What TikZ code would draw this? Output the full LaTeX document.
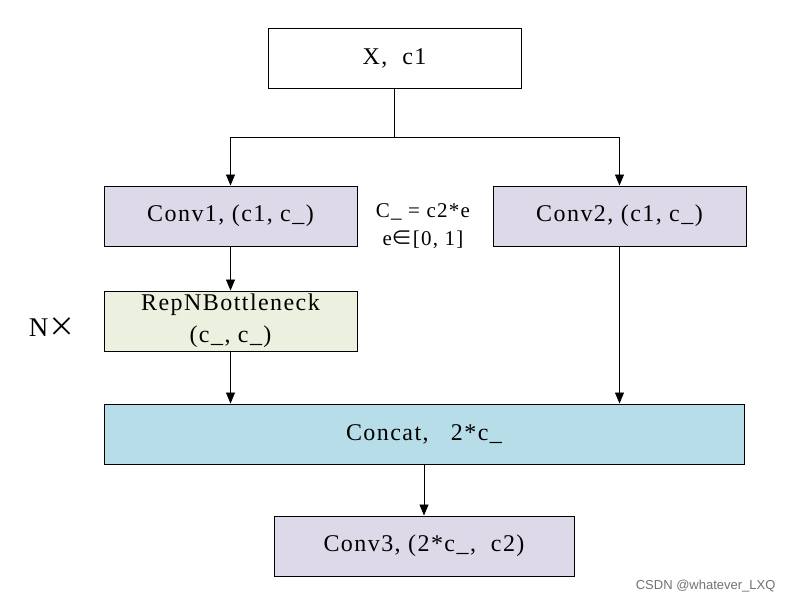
\documentclass[tikz,border=0pt]{standalone}
\usepackage{fontspec}
\setmainfont{Liberation Serif}[LetterSpace=6]
\newfontfamily\cjk{Noto Sans CJK SC}
\newfontfamily\wmfont{Liberation Sans}
\usetikzlibrary{arrows.meta,positioning}
\definecolor{convfill}{RGB}{221,217,232}
\definecolor{repfill}{RGB}{235,241,222}
\definecolor{catfill}{RGB}{183,221,232}
\tikzset{
  box/.style={draw=black,line width=1pt,minimum height=60pt,inner sep=0pt,font=\fontsize{24}{27}\selectfont},
  arr/.style={line width=0.8pt,-{Triangle[length=11pt,width=9pt]}},
  ln/.style={line width=0.8pt},
}
\begin{document}
\begin{tikzpicture}[x=1pt,y=-1pt]
\useasboundingbox[fill=white] (0,0) rectangle (793,605);
\node[box,fill=white,minimum width=253pt] (xin) at (394.5,58) {X,\ \ c1};
\node[box,fill=convfill,minimum width=253pt] (conv1) at (230.5,216) {Conv1, (c1, c\_)};
\node[box,fill=convfill,minimum width=253pt] (conv2) at (619.5,216) {Conv2, (c1, c\_)};
\node[box,fill=repfill,minimum width=253pt,align=center,font=\fontsize{24}{32}\selectfont] (rep) at (230.5,321) {RepNBottleneck\\(c\_, c\_)};
\node[box,fill=catfill,minimum width=640pt] (cat) at (424,434) {Concat,\ \ \ 2*c\_};
\node[box,fill=convfill,minimum width=300pt] (conv3) at (424,546) {Conv3, (2*c\_,\ \ c2)};
\node[font=\fontsize{21}{24}\selectfont] (eq1) at (423,212) {C\_ = c2*e};
\node[font=\fontsize{21}{24}\selectfont] (eq2) at (423,240) {e{\cjk ∈}[0, 1]};
\node[font=\fontsize{27}{30}\selectfont] (nx) at (52,327) {N{\cjk ×}};
\node[font=\wmfont\fontsize{13}{15}\selectfont,text=black!55,anchor=east] (wm) at (779,586) {CSDN @whatever\_LXQ};
\coordinate (split) at (394.5,137);
\draw[ln] (xin.south) -- (split);
\draw[arr] (split) -| (conv1.north);
\draw[arr] (split) -| (conv2.north);
\draw[arr] (conv1.south) -- (rep.north);
\draw[arr] (rep.south) -- (rep.south |- cat.north);
\draw[arr] (conv2.south) -- (conv2.south |- cat.north);
\draw[arr] (cat.south) -- (conv3.north);
\end{tikzpicture}
\end{document}
